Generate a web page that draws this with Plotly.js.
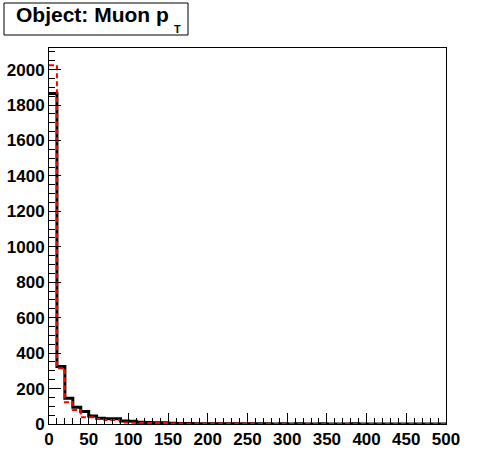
<!DOCTYPE html>
<html>
<head>
<meta charset="utf-8">
<script src="https://cdn.plot.ly/plotly-3.0.1.min.js"></script>
<style>html,body{margin:0;padding:0;background:#fff;}#chart{width:496px;height:472px;}</style>
</head>
<body>
<div id="chart"></div>
<script>
// Histogram: Object: Muon pT, 50 bins of width 10 from 0 to 500
var binWidth = 10;
var blackCounts = [1865, 324, 145, 94, 70, 45, 32, 30, 29, 17,
                   16, 10, 8, 7, 7, 4, 3, 3, 2, 2,
                   2, 1, 1, 1, 1, 1, 1, 1, 0, 1,
                   0, 1, 0, 0, 1, 0, 0, 0, 1, 0,
                   0, 0, 0, 0, 0, 0, 0, 0, 0, 0];
var redCounts = [2025, 315, 123, 79, 38, 38, 28, 23, 22, 8,
                 7, 7, 6, 5, 5, 3, 3, 2, 2, 2,
                 1, 1, 1, 1, 1, 1, 0, 1, 0, 1,
                 0, 0, 1, 0, 0, 0, 0, 1, 0, 0,
                 0, 0, 0, 0, 0, 0, 0, 0, 0, 0];
var xTickVals = [0, 50, 100, 150, 200, 250, 300, 350, 400, 450, 500];
var yTickVals = [0, 200, 400, 600, 800, 1000, 1200, 1400, 1600, 1800, 2000];
var titleMain = 'Object: Muon p';
var titleSub = 'T';

function stepXY(counts) {
  var xs = [], ys = [];
  for (var i = 0; i < counts.length; i++) { xs.push(i * binWidth); ys.push(counts[i]); }
  xs.push(counts.length * binWidth); ys.push(counts[counts.length - 1]);
  return {x: xs, y: ys};
}
var b = stepXY(blackCounts), r = stepXY(redCounts);

var fam = '"Liberation Sans", Arial, Helvetica, sans-serif';
var traces = [
  {x: b.x, y: b.y, type: 'scatter', mode: 'lines', line: {shape: 'hv', color: '#000', width: 3}, hoverinfo: 'skip'},
  {x: r.x, y: r.y, type: 'scatter', mode: 'lines', line: {shape: 'hv', color: '#ff0000', width: 2, dash: '5px,3px'}, hoverinfo: 'skip'}
];
var axisCommon = {
  showgrid: false, zeroline: false, showline: true, linecolor: '#000', linewidth: 1,
  mirror: true, ticks: 'inside', tickcolor: '#000', tickwidth: 1, ticklen: 11,
  tickfont: {family: fam, size: 17, color: '#000', weight: 'bold'}
};
function px(x) { return (x - 49) / 397; }
function py(y) { return (424 - y) / 376; }
var layout = {
  width: 496, height: 472,
  margin: {l: 49, r: 50, t: 48, b: 48, pad: 0},
  paper_bgcolor: '#fff', plot_bgcolor: '#fff',
  showlegend: false, hovermode: false,
  xaxis: Object.assign({}, axisCommon, {
    range: [0, 500], tickmode: 'array', tickvals: xTickVals, ticktext: xTickVals.map(String),
    minor: {dtick: 10, ticks: 'inside', ticklen: 6, tickcolor: '#000', tickwidth: 1, showgrid: false}
  }),
  yaxis: Object.assign({}, axisCommon, {
    range: [0, 2122], tickmode: 'array', tickvals: yTickVals, ticktext: yTickVals.map(String),
    ticklen: 12,
    minor: {dtick: 50, ticks: 'inside', ticklen: 6, tickcolor: '#000', tickwidth: 1, showgrid: false}
  }),
  shapes: [{
    type: 'rect', xref: 'paper', yref: 'paper',
    x0: px(4), x1: px(188), y0: py(35), y1: py(3),
    line: {color: '#000', width: 1}, fillcolor: '#fff'
  }],
  annotations: [{
    xref: 'paper', yref: 'paper', x: px(14), y: py(15),
    xanchor: 'left', yanchor: 'middle', showarrow: false,
    text: titleMain,
    font: {family: fam, size: 21, color: '#000', weight: 'bold'}
  }, {
    xref: 'paper', yref: 'paper', x: px(172), y: py(28.5),
    xanchor: 'left', yanchor: 'middle', showarrow: false,
    text: titleSub,
    font: {family: fam, size: 11, color: '#000', weight: 'bold'}
  }]
};
Plotly.newPlot('chart', traces, layout, {staticPlot: true, displayModeBar: false});
</script>
</body>
</html>
